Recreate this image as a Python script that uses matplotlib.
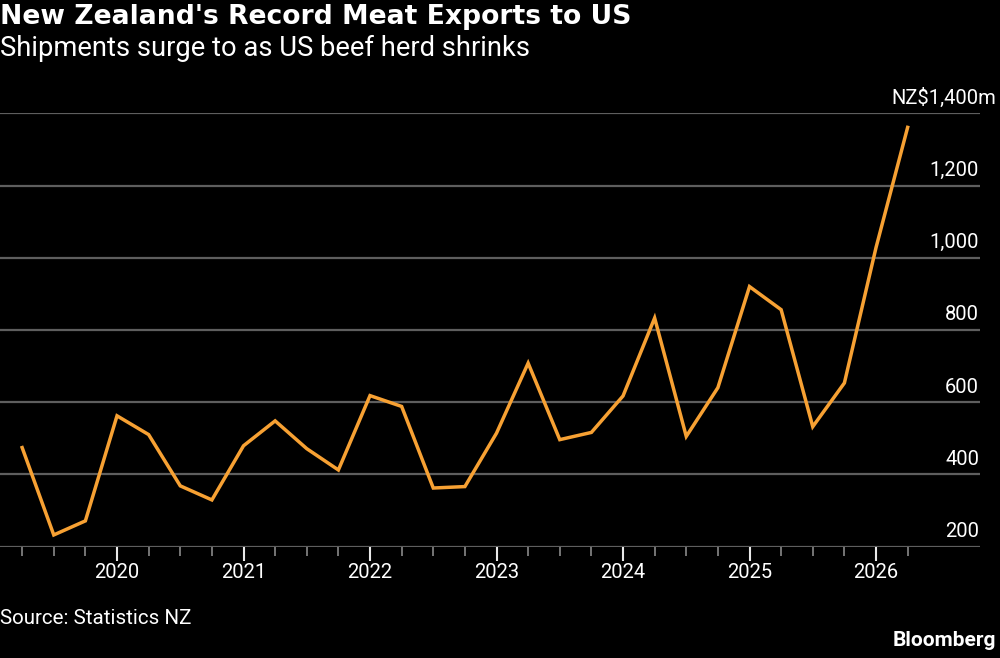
import numpy as np
import pandas as pd
import matplotlib
matplotlib.use("Agg")
import matplotlib.pyplot as plt
from matplotlib.ticker import FixedLocator, FuncFormatter

# quarterly NZ meat exports to the US, NZ$ millions
quarters = ["2019Q2", "2019Q3", "2019Q4",
            "2020Q1", "2020Q2", "2020Q3", "2020Q4",
            "2021Q1", "2021Q2", "2021Q3", "2021Q4",
            "2022Q1", "2022Q2", "2022Q3", "2022Q4",
            "2023Q1", "2023Q2", "2023Q3", "2023Q4",
            "2024Q1", "2024Q2", "2024Q3", "2024Q4",
            "2025Q1", "2025Q2", "2025Q3", "2025Q4",
            "2026Q1", "2026Q2"]
exports = [474, 232, 271,
           562, 510, 368, 329,
           479, 548, 471, 412,
           618, 588, 362, 366,
           514, 708, 496, 516,
           617, 833, 505, 640,
           920, 856, 532, 653,
           1028, 1361]
y_ticks = [200, 400, 600, 800, 1000, 1200, 1400]
year_ticks = [2020, 2021, 2022, 2023, 2024, 2025, 2026]

BG = "#000000"
LINE = "#F7A133"
GRID = "#5E5E5E"
TXT = "#FFFFFF"
NARROW = ["Roboto", "DejaVu Sans"]

per = pd.PeriodIndex(quarters, freq="Q")
x = per.year + (per.quarter - 1) / 4.0

fig = plt.figure(figsize=(10, 6.58), dpi=100, facecolor=BG)
ax = fig.add_axes([0.0, 1 - 546.5 / 658, 0.98, (546.5 - 113.3) / 658])
ax.set_facecolor(BG)

ax.plot(x, exports, color=LINE, lw=2.5, solid_joinstyle="miter", zorder=3, clip_on=False)

ax.set_xlim(2019.075, 2026.822)
ax.set_ylim(200, 1400)

for s in ax.spines.values():
    s.set_visible(False)

ax.yaxis.set_major_locator(FixedLocator(y_ticks))
ax.yaxis.grid(True, color=GRID, lw=1.6)
ax.tick_params(axis="y", length=0, labelleft=False)
for v in y_ticks:
    lab = f"NZ${v:,}m" if v == 1400 else f"{v:,}"
    xr = 0.996 if v == 1400 else 0.979
    ypix = 546.5 - (v - 200) * 0.361 - 17
    fig.text(xr, 1 - ypix / 658, lab, ha="right", va="center_baseline",
             color=TXT, fontsize=14.5, family=NARROW)

ax.xaxis.set_major_locator(FixedLocator(year_ticks))
ax.xaxis.set_minor_locator(FixedLocator(np.arange(2019.25, 2026.3, 0.25)))
ax.xaxis.set_major_formatter(FuncFormatter(lambda v, p: f"{int(round(v))}"))
ax.tick_params(axis="x", which="major", length=10, width=1.5, color="#E8E8E8",
               labelcolor=TXT, labelsize=14.5, pad=2)
ax.tick_params(axis="x", which="minor", length=6.5, width=1.2, color="#8A8A8A")
for t in ax.get_xticklabels():
    t.set_family(NARROW)
ax.set_axisbelow(True)

fig.text(0.0, 1 - 17 / 658, "New Zealand's Record Meat Exports to US", ha="left", va="center",
         color=TXT, fontsize=19.2, fontweight="bold", family=["DejaVu Sans"])
fig.text(0.0, 1 - 48 / 658, "Shipments surge to as US beef herd shrinks", ha="left", va="center",
         color=TXT, fontsize=19.7, family=NARROW)
fig.text(0.0, 1 - 618 / 658, "Source: Statistics NZ", ha="left", va="center",
         color=TXT, fontsize=14.8, family=NARROW)
fig.text(0.996, 1 - 641 / 658, "Bloomberg", ha="right", va="center",
         color=TXT, fontsize=15, fontweight="bold", family=NARROW)

fig.savefig("out.png", dpi=100, facecolor=BG)
